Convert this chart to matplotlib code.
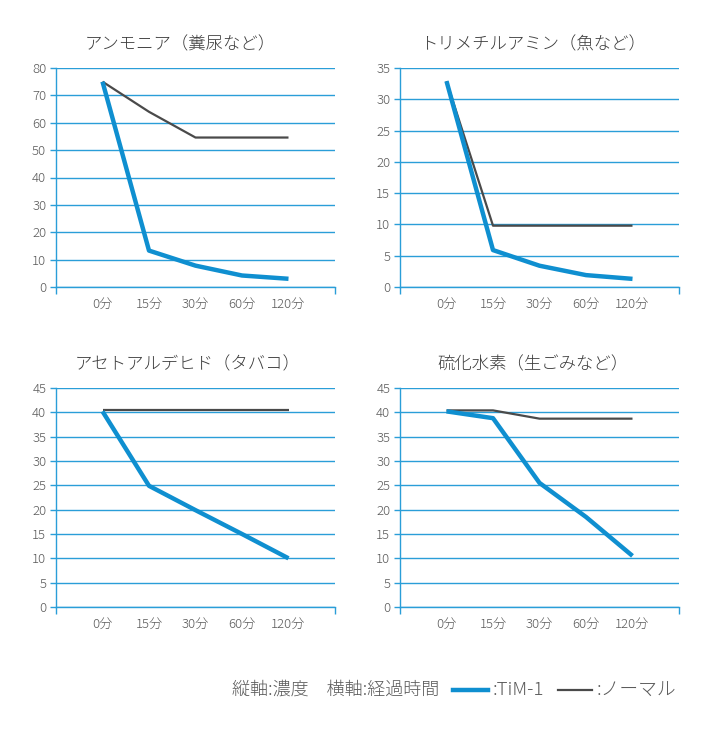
import matplotlib
matplotlib.use('Agg')
import matplotlib.pyplot as plt
from matplotlib.lines import Line2D

plt.rcParams['font.family'] = ['Noto Sans CJK JP', 'DejaVu Sans']

times = ['0分', '15分', '30分', '60分', '120分']

titles = ['アンモニア（糞尿など）', 'トリメチルアミン（魚など）',
          'アセトアルデヒド（タバコ）', '硫化水素（生ごみなど）']

tim_ammonia = [75, 13.3, 7.8, 4.2, 3.0]
nor_ammonia = [75, 64, 54.6, 54.6, 54.6]
tim_tma = [32.9, 5.9, 3.4, 1.9, 1.3]
nor_tma = [32.9, 9.8, 9.8, 9.8, 9.8]
tim_acet = [40.2, 24.9, 19.9, 15.0, 10.0]
nor_acet = [40.4, 40.4, 40.4, 40.4, 40.4]
tim_h2s = [40.2, 38.8, 25.5, 18.5, 10.5]
nor_h2s = [40.4, 40.4, 38.7, 38.7, 38.7]

tim_series = [tim_ammonia, tim_tma, tim_acet, tim_h2s]
nor_series = [nor_ammonia, nor_tma, nor_acet, nor_h2s]
ymax = [80, 35, 45, 45]
ystep = [10, 5, 5, 5]

BLUE = '#0f8fd0'
GRID = '#2a9ed8'
GRAY = '#4a4a4a'
TEXT = '#5a5a5a'

fig = plt.figure(figsize=(7.2, 7.29), dpi=100)

W, H = 720, 729
boxes = [(56, 68), (400, 68), (56, 388), (400, 388)]
title_x = [180, 533, 188, 533]
aw, ah = 279, 219

for i in range(4):
    x0, y0 = boxes[i]
    ax = fig.add_axes([x0 / W, 1 - (y0 + ah) / H, aw / W, ah / H])
    xs = list(range(1, 6))
    ax.plot(xs, nor_series[i], color=GRAY, lw=1.6, zorder=3, solid_capstyle='butt')
    ax.plot(xs, tim_series[i], color=BLUE, lw=3.2, zorder=4, solid_capstyle='butt')
    ax.set_xlim(0, 6)
    ax.set_ylim(0, ymax[i])
    ax.set_yticks(range(0, ymax[i] + 1, ystep[i]))
    ax.yaxis.grid(True, color=GRID, lw=1.0)
    ax.set_axisbelow(True)
    ax.set_xticks(xs)
    ax.set_xticklabels(times)
    ax.set_xticks([0, 6], minor=True)
    ax.tick_params(axis='x', which='major', length=0, pad=8, labelsize=9.5, labelcolor=TEXT)
    ax.tick_params(axis='x', which='minor', length=5, color=GRID, width=1)
    ax.tick_params(axis='y', length=4, color=GRID, width=1, pad=3, labelsize=9.5, labelcolor=TEXT)
    for lab in ax.get_xticklabels() + ax.get_yticklabels():
        lab.set_fontweight('light')
    for s in ['top', 'right']:
        ax.spines[s].set_visible(False)
    for s in ['left', 'bottom']:
        ax.spines[s].set_color(GRID)
        ax.spines[s].set_linewidth(1.0)
    fig.text(title_x[i] / W, 1 - (y0 - 24) / H, titles[i], ha='center', va='center',
             fontsize=12.5, color='#3c3c3c', fontweight='light')

ly = 1 - 690 / H
fig.text(232 / W, ly, '縦軸:濃度　横軸:経過時間', ha='left', va='center', fontsize=13,
         color=TEXT, fontweight='light')
fig.add_artist(Line2D([453 / W, 488 / W], [ly, ly], color=BLUE, lw=3.2))
fig.text(493 / W, ly, ':TiM-1', ha='left', va='center', fontsize=13.5, color=TEXT,
         fontweight='light')
fig.add_artist(Line2D([558 / W, 592 / W], [ly, ly], color=GRAY, lw=1.6))
fig.text(597 / W, ly, ':ノーマル', ha='left', va='center', fontsize=13.5, color=TEXT,
         fontweight='light')

fig.savefig('out.png', dpi=100, facecolor='white')
